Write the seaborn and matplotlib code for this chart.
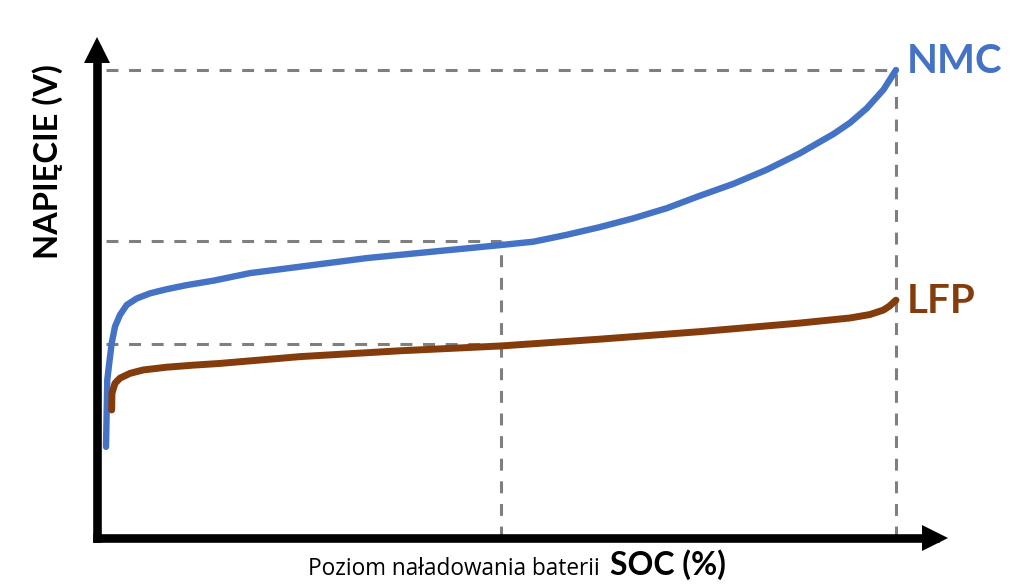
import numpy as np
import pandas as pd
import matplotlib
matplotlib.use("Agg")
import matplotlib.pyplot as plt
import seaborn as sns

# ---- data (SOC in %, voltage in V; schematic values) ----
nmc_soc = [0.0, 0.16, 0.51, 0.72, 1.14, 1.77, 2.62, 3.89, 5.57, 7.68, 10.2, 13.6,
           18.2, 24.6, 33.0, 41.4, 49.9, 54.1, 58.3, 62.4, 66.7, 71.0, 74.9, 79.4,
           83.6, 87.8, 92.1, 94.2, 96.3, 98.4, 100.0]
nmc_v = [3.098, 3.294, 3.362, 3.401, 3.450, 3.484, 3.513, 3.532, 3.547, 3.559, 3.571, 3.584,
         3.606, 3.625, 3.650, 3.669, 3.688, 3.698, 3.718, 3.740, 3.766, 3.796, 3.830, 3.867,
         3.908, 3.956, 4.013, 4.046, 4.088, 4.142, 4.200]

lfp_soc = [0.72, 0.75, 1.14, 1.77, 3.04, 4.72, 7.68, 11.05, 14.4, 24.6, 37.2, 49.9,
           62.5, 75.2, 87.8, 94.2, 96.7, 98.4, 99.2, 100.0]
lfp_v = [3.206, 3.255, 3.284, 3.299, 3.313, 3.323, 3.331, 3.337, 3.342, 3.362, 3.379, 3.393,
         3.413, 3.435, 3.460, 3.475, 3.485, 3.498, 3.510, 3.527]

ref_soc = [50.0, 100.0]      # vertical guide positions
ref_v_nmc_mid = 3.70         # NMC nominal level
ref_v_lfp_mid = 3.40         # LFP nominal level
ref_v_nmc_max = 4.20         # NMC at 100 %

series_names = ["NMC", "LFP"]
x_label_small = "Poziom naładowania baterii"
x_label_big = "SOC (%)"
y_label = "NAPIĘCIE (V)"

# ---- styling ----
sns.set_theme(style="white")
plt.rcParams["font.family"] = ["Lato", "DejaVu Sans"]

BLUE = "#4472C4"
BROWN = "#843C0C"
GRAY = "#7f7f7f"

W, H = 1024, 587
fig = plt.figure(figsize=(W / 100, H / 100), dpi=100)
left_px, right_px, top_px, bottom_px = 97, 935, 50, 538
ax = fig.add_axes([left_px / W, (H - bottom_px) / H,
                   (right_px - left_px) / W, (bottom_px - top_px) / H])

xmin, xmax = -1.14, 104.94
ymin, ymax = 2.8316, 4.2585
ax.set_xlim(xmin, xmax)
ax.set_ylim(ymin, ymax)

# guide lines
dash_kw = dict(color=GRAY, lw=2.2, dashes=(3.9, 3.5), zorder=1)
ax.plot([0, ref_soc[1]], [ref_v_nmc_max, ref_v_nmc_max], **dash_kw)
ax.plot([0, ref_soc[0]], [ref_v_nmc_mid, ref_v_nmc_mid], **dash_kw)
ax.plot([0, ref_soc[0]], [ref_v_lfp_mid, ref_v_lfp_mid], **dash_kw)
ax.plot([ref_soc[0], ref_soc[0]], [ymin, ref_v_nmc_mid], **dash_kw)
ax.plot([ref_soc[1], ref_soc[1]], [ymin, ref_v_nmc_max], **dash_kw)

# curves
nmc = pd.DataFrame({"soc": nmc_soc, "v": nmc_v})
lfp = pd.DataFrame({"soc": lfp_soc, "v": lfp_v})
sns.lineplot(data=nmc, x="soc", y="v", ax=ax, color=BLUE, lw=4.6, sort=False,
             estimator=None, solid_capstyle="round", solid_joinstyle="round", zorder=3)
sns.lineplot(data=lfp, x="soc", y="v", ax=ax, color=BROWN, lw=5.0, sort=False,
             estimator=None, solid_capstyle="round", solid_joinstyle="round", zorder=3)

# series labels
ax.text(101.4, 4.191, series_names[0], color=BLUE,
        fontsize=29, fontweight="bold", ha="left", va="baseline", clip_on=False)
ax.text(101.4, 3.489, series_names[1], color=BROWN,
        fontsize=29, fontweight="bold", ha="left", va="baseline", clip_on=False)

# axes with arrows
sns.despine(ax=ax)
for s in ["left", "bottom"]:
    ax.spines[s].set_linewidth(6.2)
    ax.spines[s].set_color("black")
    ax.spines[s].set_capstyle("projecting")
ax.set_xticks([])
ax.set_yticks([])
ax.set_xlabel("")
ax.set_ylabel("")
ax.plot(0, 1, marker="^", color="black", ms=19.4, mew=0, transform=ax.transAxes, clip_on=False)
ax.plot(1, 0, marker=">", color="black", ms=19.4, mew=0, transform=ax.transAxes, clip_on=False)

# axis titles
fig.text(600 / W, 1 - 575 / H, x_label_small, fontsize=16.3, ha="right", va="baseline",
         color="black", family=["Open Sans", "DejaVu Sans"])
fig.text(610 / W, 1 - 575 / H, x_label_big, fontsize=23, fontweight="bold", ha="left",
         va="baseline", color="black")
fig.text(47.5 / W, 1 - 161.5 / H, y_label, fontsize=23.5, fontweight="bold", rotation=90,
         ha="center", va="center", color="black")

fig.savefig("out.png", dpi=100)
